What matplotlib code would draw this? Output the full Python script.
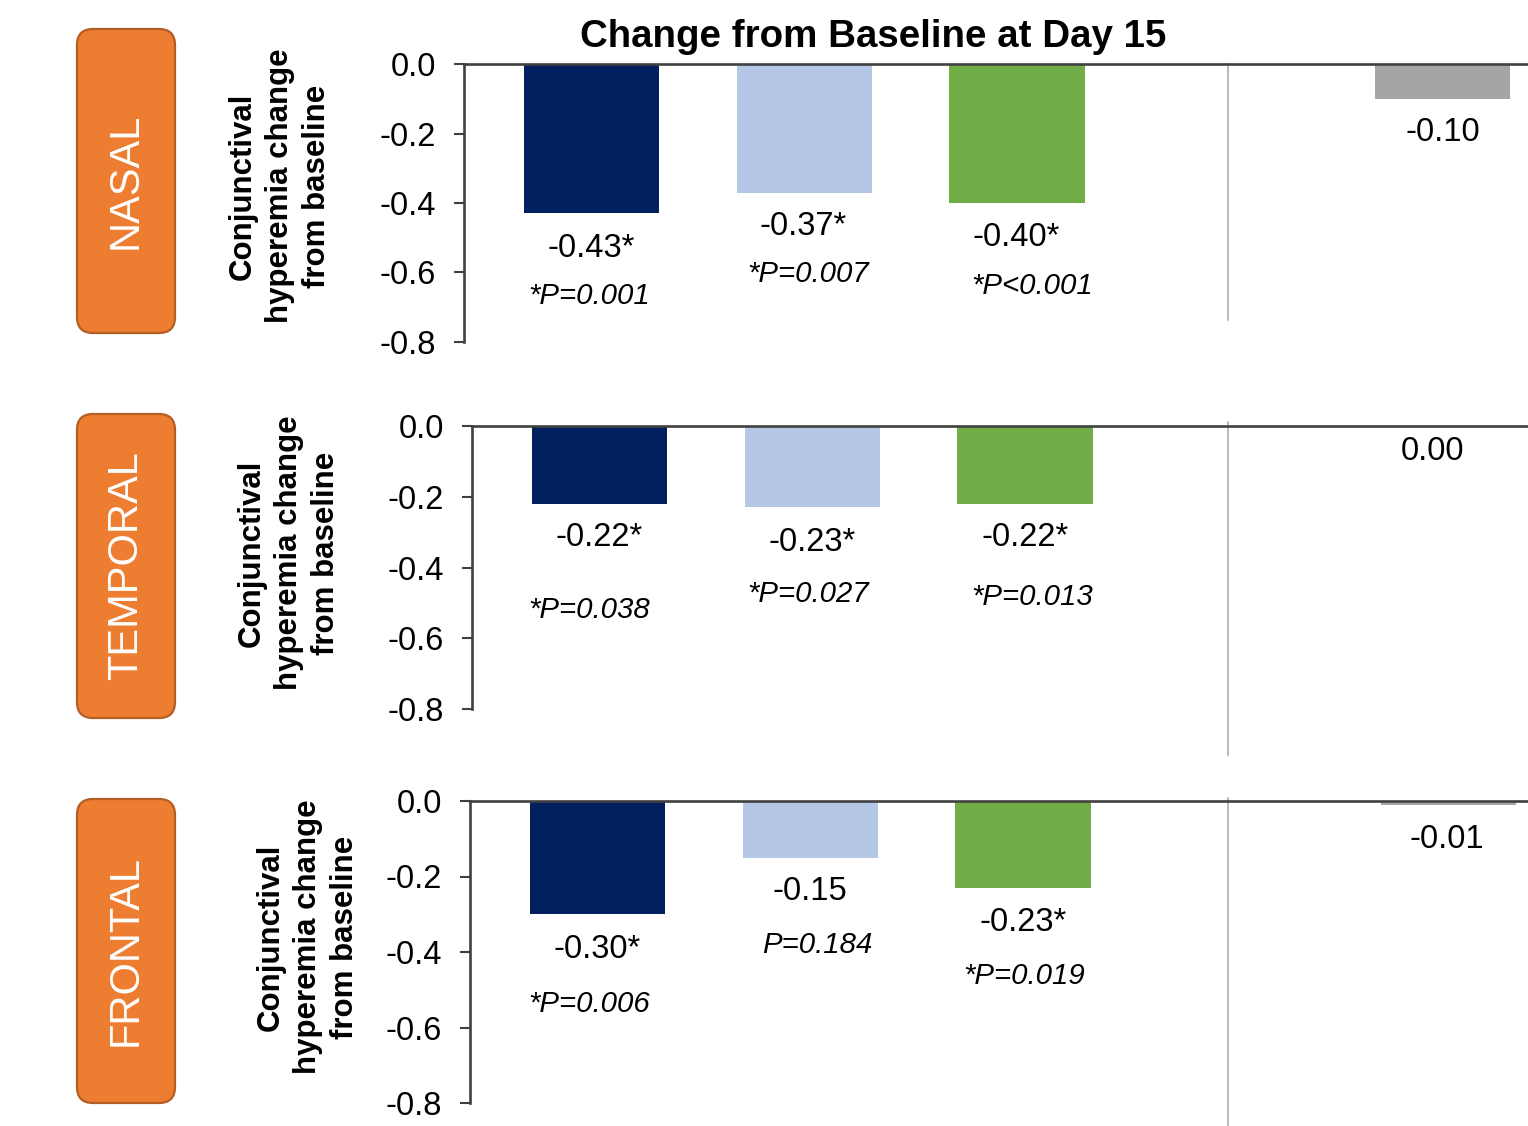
import matplotlib
matplotlib.use("Agg")
import matplotlib.pyplot as plt
from matplotlib.patches import FancyBboxPatch
from matplotlib.lines import Line2D

# ---- data -------------------------------------------------------------
regions = ["NASAL", "TEMPORAL", "FRONTAL"]
treatments = ["Arm A", "Arm B", "Arm C", "Vehicle"]
bar_slots = [0, 1, 2, 4]

nasal_change = [-0.43, -0.37, -0.40, -0.10]
temporal_change = [-0.22, -0.23, -0.22, 0.00]
frontal_change = [-0.30, -0.15, -0.23, -0.01]

nasal_sig = [True, True, True, False]
temporal_sig = [True, True, True, False]
frontal_sig = [True, False, True, False]

nasal_p = ["*P=0.001", "*P=0.007", "*P<0.001"]
temporal_p = ["*P=0.038", "*P=0.027", "*P=0.013"]
frontal_p = ["*P=0.006", "P=0.184", "*P=0.019"]

y_ticks = [0.0, -0.2, -0.4, -0.6, -0.8]
title = "Change from Baseline at Day 15"
y_label = "Conjunctival\nhyperemia change\nfrom baseline"

# ---- styling / layout --------------------------------------------------
bar_colors = ["#002060", "#B4C7E7", "#70AD47", "#A5A5A5"]
W, H = 1528, 1126
FONT = "Liberation Sans"
AX = "#404040"
plt.rcParams["font.family"] = [FONT, "DejaVu Sans"]
plt.rcParams["axes.unicode_minus"] = False

# panel boxes in pixels: left, top, right, bottom
panel_px = [(464, 64, 1528, 342), (472, 426, 1528, 709), (470, 801, 1528, 1103)]
slot_px = 212.7
bar_width = 0.635
label_boxes = [(77, 29, 175, 333), (77, 414, 175, 718), (77, 799, 175, 1103)]
ylabel_pos = [(280, 186), (289, 553), (308, 937)]
separator_px = [(1228, 64, 320), (1228, 422, 755), (1228, 798, 1126)]

# label offsets in pixels (dx, dy below the bar end)
value_offsets = [
    [(0, 35), (-1, 34), (-1, 34), (0, 34)],
    [(0, 34), (0, 35), (0, 34), (-18, 25)],
    [(0, 35), (0, 34), (0, 35), (-2, 35)],
]
p_offsets = [
    [(-2, 83), (4, 81), (15, 83)],
    [(-10, 106), (-4, 87), (7, 93)],
    [(-8, 90), (7, 87), (1, 88)],
]

changes = [nasal_change, temporal_change, frontal_change]
sigs = [nasal_sig, temporal_sig, frontal_sig]
pvals = [nasal_p, temporal_p, frontal_p]

fig = plt.figure(figsize=(W / 100, H / 100), dpi=100)

# background layer in pixel units for the region tags and axis titles
bg = fig.add_axes([0, 0, 1, 1])
bg.set_xlim(0, W)
bg.set_ylim(H, 0)
bg.axis("off")
bg.set_zorder(-1)

for name, (l, t, r, b), (yx, yy) in zip(regions, label_boxes, ylabel_pos):
    box = FancyBboxPatch((l, t), r - l, b - t,
                         boxstyle="round,pad=0,rounding_size=16",
                         facecolor="#ED7D31", edgecolor="#B45E24", linewidth=1.6)
    bg.add_patch(box)
    bg.text((l + r) / 2, (t + b) / 2, name, rotation=90, ha="center", va="center",
            color="white", fontsize=30)
    bg.text(yx, yy, y_label, rotation=90, ha="center", va="center",
            multialignment="center", fontsize=22.5, fontweight="bold",
            linespacing=1.3)

bg.text(873, 37, title, ha="center", va="center", fontsize=27.7, fontweight="bold")

for x, y0, y1 in separator_px:
    bg.add_line(Line2D([x, x], [y0, y1], color="#A6A6A6", linewidth=1.1))

for i, (l, t, r, b) in enumerate(panel_px):
    ax = fig.add_axes([l / W, 1 - b / H, (r - l) / W, (b - t) / H])
    ax.patch.set_alpha(0)
    vals = changes[i]
    ax.bar(bar_slots, vals, width=bar_width, color=bar_colors, zorder=1)
    ax.set_xlim(-0.6, -0.6 + (r - l) / slot_px)
    ax.set_ylim(-0.8, 0.0)
    ax.set_yticks(y_ticks)
    ax.set_yticklabels([f"{v:.1f}" for v in y_ticks])
    ax.set_xticks([])
    for s in ["bottom", "right"]:
        ax.spines[s].set_visible(False)
    for s in ["left", "top"]:
        ax.spines[s].set_color(AX)
        ax.spines[s].set_linewidth(1.9)
        ax.spines[s].set_zorder(3)
    ax.tick_params(axis="y", direction="out", length=7.5, width=1.5, color=AX,
                   labelsize=23.5, pad=12.5, labelcolor="black")

    for j, (xs, v) in enumerate(zip(bar_slots, vals)):
        txt = f"{v:.2f}" + ("*" if sigs[i][j] else "")
        dx, dy = value_offsets[i][j]
        ax.annotate(txt, (xs, v), xytext=(dx, -dy), textcoords="offset pixels",
                    ha="center", va="center", fontsize=23.5)
    for j, ptxt in enumerate(pvals[i]):
        dx, dy = p_offsets[i][j]
        ax.annotate(ptxt, (bar_slots[j], vals[j]), xytext=(dx, -dy),
                    textcoords="offset pixels", ha="center", va="center",
                    fontsize=21.2, style="italic")

fig.savefig("out.png", dpi=100)
